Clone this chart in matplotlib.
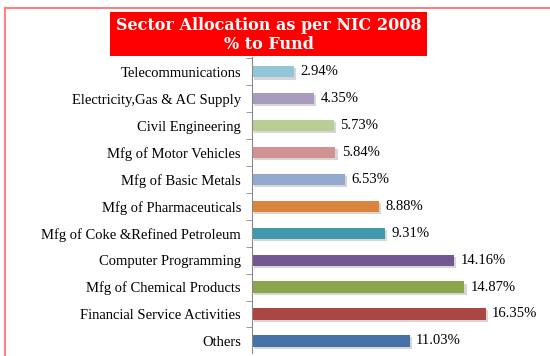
import matplotlib.pyplot as plt
import matplotlib.patches as mpatches
import matplotlib.lines as mlines
import matplotlib.patheffects as pe
import numpy as np

# datos (de abajo hacia arriba)
sectores = ['Others', 'Financial Service Activities', 'Mfg of Chemical Products',
            'Computer Programming', 'Mfg of Coke &Refined Petroleum', 'Mfg of Pharmaceuticals',
            'Mfg of Basic Metals', 'Mfg of Motor Vehicles', 'Civil Engineering',
            'Electricity,Gas & AC Supply', 'Telecommunications']
valores = [11.03, 16.35, 14.87, 14.16, 9.31, 8.88, 6.53, 5.84, 5.73, 4.35, 2.94]
colores = ['#4572A7', '#AA4643', '#89A54E', '#71588F', '#4198AF', '#DB843D',
           '#93A9CF', '#D19392', '#B9CD96', '#A99BBD', '#92C6D9']

fig = plt.figure(figsize=(5.5, 3.56), dpi=100)

# marco exterior (solo arriba e izquierda)
x0, y0 = 5 / 550, 1 - 8 / 356
fig.lines.append(mlines.Line2D([x0, 1.0], [y0, y0], transform=fig.transFigure,
                               color='#FF8080', linewidth=1.5))
fig.lines.append(mlines.Line2D([x0, x0], [0, y0], transform=fig.transFigure,
                               color='#FF8080', linewidth=1.5))

# caja del titulo
fig.patches.append(mpatches.Rectangle((110 / 550, 1 - 56 / 356), 317 / 550, 44 / 356,
                                      transform=fig.transFigure, facecolor='#FF0000',
                                      edgecolor='none'))
fig.text(268.5 / 550, 1 - 35 / 356, 'Sector Allocation as per NIC 2008\n% to Fund',
         ha='center', va='center', color='white', fontsize=11.5, fontweight='bold',
         family='DejaVu Serif', linespacing=1.1)

ax = fig.add_axes([252 / 550, 3 / 356, 290 / 550, 296 / 356])
y = np.arange(len(sectores))
barras = ax.barh(y, valores, height=0.42, color=colores)
for b in barras:
    b.set_path_effects([pe.SimplePatchShadow(offset=(1.5, -1.5), shadow_rgbFace='#BBBBBB', alpha=0.6),
                        pe.Normal()])

for yi, v in zip(y, valores):
    ax.text(v + 0.45, yi, f'{v:.2f}%', va='center', ha='left', fontsize=10.5,
            family='Liberation Serif')

ax.set_yticks(y)
ax.set_yticklabels(sectores, family='Liberation Serif', fontsize=10.5)
ax.tick_params(axis='y', which='major', length=0, pad=8)
ax.set_yticks(np.arange(-0.5, len(sectores), 1), minor=True)
ax.tick_params(axis='y', which='minor', length=4, color='#888888', direction='out')
ax.set_ylim(-0.45, 10.55)
ax.set_xlim(0, 20.3)
ax.set_xticks([])
for s in ['top', 'right', 'bottom']:
    ax.spines[s].set_visible(False)
ax.spines['left'].set_color('#888888')

fig.savefig('out.png', dpi=100)
